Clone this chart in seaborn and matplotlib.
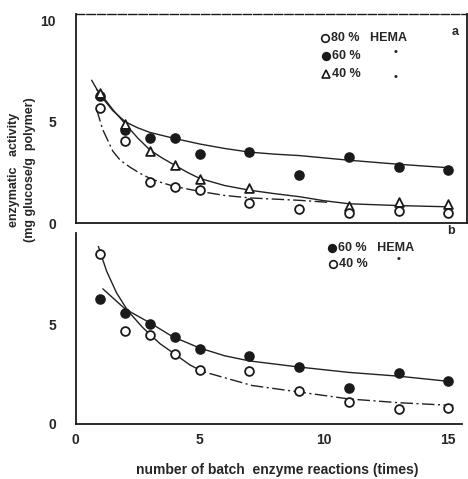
import matplotlib.pyplot as plt
from matplotlib.lines import Line2D
import seaborn as sns

# Panel a: beads with 80, 60 and 40 % HEMA
batch_a = [1, 2, 3, 4, 5, 7, 9, 11, 13, 15]
hema80_a = [5.7, 4.05, 2.0, 1.8, 1.65, 1.0, 0.7, 0.5, 0.6, 0.5]
hema60_a = [6.25, 4.6, 4.2, 4.2, 3.4, 3.5, 2.35, 3.25, 2.75, 2.6]
batch_a40 = [1, 2, 3, 4, 5, 7, 11, 13, 15]
hema40_a = [6.4, 4.9, 3.55, 2.85, 2.15, 1.75, 0.85, 1.05, 0.95]

# hand drawn curves of panel a
curve80_a_x = [0.85, 1.1, 1.5, 1.8, 2.2, 2.6, 3, 3.5, 4, 5, 6, 7, 8, 9, 10.2]
curve80_a_y = [5.6, 4.6, 3.55, 3.1, 2.75, 2.45, 2.2, 1.98, 1.8, 1.56, 1.36, 1.24, 1.18, 1.12, 1.02]
curve60_a_x = [0.65, 1, 1.5, 2, 2.5, 3, 4, 5, 6, 7, 8, 9, 11, 13, 15]
curve60_a_y = [7.05, 6.3, 5.55, 5.0, 4.7, 4.47, 4.17, 3.9, 3.68, 3.5, 3.4, 3.33, 3.1, 2.9, 2.73]
curve40_a_x = [0.85, 1, 1.5, 2, 2.5, 3, 3.5, 4, 4.5, 5, 6, 7, 8, 9, 10, 11, 13, 15]
curve40_a_y = [6.6, 6.4, 5.6, 4.9, 4.2, 3.6, 3.2, 2.85, 2.5, 2.2, 1.85, 1.62, 1.45, 1.3, 1.1, 0.95, 0.86, 0.8]

# Panel b: 60 and 40 % HEMA
batch_b = [1, 2, 3, 4, 5, 7, 9, 11, 13, 15]
hema60_b = [6.3, 5.6, 5.0, 4.35, 3.75, 3.4, 2.85, 1.8, 2.55, 2.15]
hema40_b = [8.55, 4.65, 4.45, 3.5, 2.7, 2.65, 1.65, 1.1, 0.75, 0.8]

curve60_b_x = [1.1, 2, 3, 3.9, 5, 6, 7, 9, 11, 13, 15]
curve60_b_y = [6.8, 5.78, 5.08, 4.39, 3.81, 3.42, 3.16, 2.85, 2.58, 2.39, 2.13]
curve40_b_x = [0.92, 1.25, 1.65, 2.1, 2.7, 3.4, 4, 4.6, 5.1, 6.2, 7.1, 9, 11, 13, 15.2]
curve40_b_y = [8.94, 7.7, 6.6, 5.7, 4.85, 4.03, 3.5, 2.96, 2.63, 2.24, 1.92, 1.59, 1.24, 1.05, 0.91]

x_ticks = [0, 5, 10, 15]
x_tick_labels = ['0', '5', '10', '15']

W, H = 468, 479
INK = '#1a1a1a'
DASHDOT = (0, (9, 2.5, 1.5, 2.5))

sns.set_style('white')
plt.rcParams['font.family'] = ['Liberation Sans', 'DejaVu Sans']
plt.rcParams['font.weight'] = 'bold'


def fx(px):
    return px / W


def fy(py):
    return 1 - py / H


def style_axis(ax, ymax, xmax):
    ax.set_xlim(0, xmax)
    ax.set_ylim(0, ymax)
    ax.set_xticks(x_ticks)
    ax.set_xticks(range(0, 16), minor=True)
    ax.set_yticks([0, 5, 10] if ymax > 10 else [0, 5])
    ax.set_yticks(range(0, int(ymax) + 1), minor=True)
    ax.tick_params(which='both', direction='in', color=INK, width=1.1)
    ax.tick_params(axis='x', which='major', length=7)
    ax.tick_params(axis='x', which='minor', length=4)
    ax.tick_params(axis='y', which='both', length=4, pad=14, labelsize=10)
    for sp in ax.spines.values():
        sp.set_linewidth(1.3)
        sp.set_color(INK)
    ax.set_xlabel('')
    ax.set_ylabel('')


def scatter(ax, x, y, marker, filled):
    sns.scatterplot(x=x, y=y, ax=ax, marker=marker, s=40,
                    color=INK if filled else 'white',
                    edgecolor=INK, linewidth=1.3, zorder=3)


def curve(ax, x, y, ls='-'):
    sns.lineplot(x=x, y=y, ax=ax, color='#222222', linewidth=1.0,
                 linestyle=ls, estimator=None, sort=False)


fig = plt.figure(figsize=(W / 100, H / 100), dpi=100)
ax_a = fig.add_axes([fx(75.5), fy(223), fx(467 - 75.5), (223 - 14) / H])
ax_b = fig.add_axes([fx(75.5), fy(423.5), fx(462 - 75.5), (423.5 - 233) / H])

# panel a
curve(ax_a, curve60_a_x, curve60_a_y)
curve(ax_a, curve40_a_x, curve40_a_y)
curve(ax_a, curve80_a_x, curve80_a_y, DASHDOT)
scatter(ax_a, batch_a, hema60_a, 'o', True)
scatter(ax_a, batch_a40, hema40_a, '^', False)
scatter(ax_a, batch_a, hema80_a, 'o', False)
style_axis(ax_a, 10.32, 15.75)
ax_a.set_xticklabels([])
ax_a.spines['top'].set_linestyle((0, (6, 1.5)))
ax_a.spines['top'].set_linewidth(1.0)

# panel b: the 40 % curve is solid on the steep part, dash-dot after
split = 8
curve(ax_b, curve60_b_x, curve60_b_y)
curve(ax_b, curve40_b_x[:split], curve40_b_y[:split])
curve(ax_b, curve40_b_x[split - 1:], curve40_b_y[split - 1:], DASHDOT)
scatter(ax_b, batch_b, hema60_b, 'o', True)
scatter(ax_b, batch_b, hema40_b, 'o', False)
style_axis(ax_b, 9.62, 15.55)
ax_b.set_xticklabels(x_tick_labels, fontsize=10)
ax_b.tick_params(axis='x', pad=7)
ax_b.spines['top'].set_visible(False)
ax_b.spines['right'].set_visible(False)


# hand lettered keys
def key(px, py, marker, filled, label):
    fig.add_artist(Line2D([fx(px)], [fy(py)], marker=marker, markersize=5.5,
                          markerfacecolor=INK if filled else 'white',
                          markeredgecolor=INK, markeredgewidth=1.2,
                          linestyle='none', transform=fig.transFigure))
    fig.text(fx(px + 6), fy(py), label, fontsize=9, fontweight='bold',
             ha='left', va='center')


def ditto(px, py):
    fig.text(fx(px), fy(py), '\u2022', fontsize=8, ha='center', va='center')


key(325, 38, 'o', False, '80 %   HEMA')
key(326, 56, 'o', True, '60 %')
key(326, 74, '^', False, '40 %')
ditto(396, 52)
ditto(396, 77)
fig.text(fx(455), fy(32), 'a', fontsize=9, fontweight='bold', ha='center', va='center')

key(332, 248, 'o', True, '60 %   HEMA')
key(333, 264, 'o', False, '40 %')
ditto(399, 259)
fig.text(fx(451), fy(231), 'b', fontsize=9, fontweight='bold', ha='center', va='center')

fig.text(fx(22), fy(170), 'enzymatic   activity\n(mg glucose/g  polymer)',
         rotation=90, ha='center', va='center', fontsize=9, fontweight='bold',
         linespacing=1.45)
fig.text(fx(277), fy(470), 'number of batch  enzyme reactions (times)',
         ha='center', va='center', fontsize=10, fontweight='bold')

fig.savefig('out.png', dpi=100, facecolor='white')
